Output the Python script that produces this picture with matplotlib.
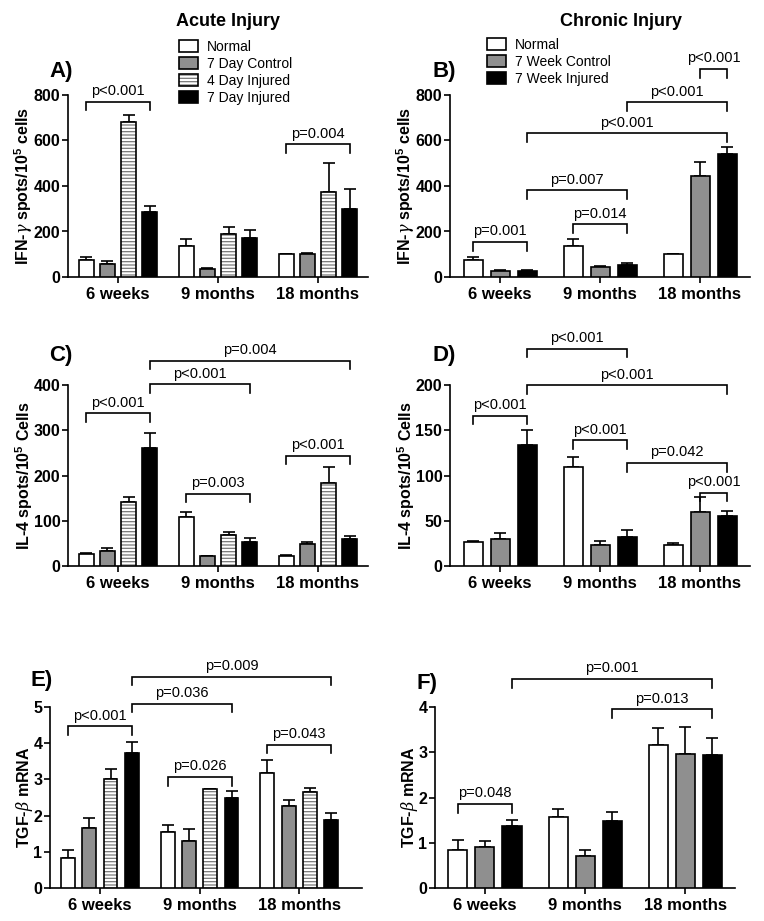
import matplotlib
matplotlib.use("Agg")
import matplotlib.pyplot as plt
from matplotlib.patches import Patch
from matplotlib.legend_handler import HandlerTuple
import numpy as np

plt.rcParams['font.family'] = ['Liberation Sans', 'DejaVu Sans']
plt.rcParams['mathtext.fontset'] = 'custom'
plt.rcParams['mathtext.rm'] = 'Liberation Sans'
plt.rcParams['mathtext.it'] = 'DejaVu Serif:italic'
plt.rcParams['mathtext.bf'] = 'Liberation Sans:bold'
plt.rcParams['hatch.linewidth'] = 0.9

# ---------------- data ----------------
groups = ['6 weeks', '9 months', '18 months']
acute_series = ['Normal', '7 Day Control', '4 Day Injured', '7 Day Injured']
chronic_series = ['Normal', '7 Week Control', '7 Week Injured']

ifn_acute_mean = [[75, 135, 100], [57, 35, 100], [680, 188, 374], [287, 170, 300]]
ifn_acute_err = [[12, 33, 3], [12, 5, 4], [30, 32, 125], [24, 38, 85]]
ifn_chronic_mean = [[75, 135, 100], [25, 44, 444], [25, 54, 540]]
ifn_chronic_err = [[12, 33, 3], [6, 4, 60], [4, 8, 32]]

il4_acute_mean = [[26, 109, 23], [33, 21, 48], [142, 68, 183], [261, 54, 59]]
il4_acute_err = [[2, 11, 2], [6, 2, 6], [11, 8, 36], [33, 7, 8]]
il4_chronic_mean = [[26, 109, 23], [30, 23, 60], [134, 32, 55]]
il4_chronic_err = [[2, 11, 2], [6, 5, 16], [16, 8, 6]]

tgf_acute_mean = [[0.83, 1.54, 3.17], [1.65, 1.30, 2.27], [3.01, 2.73, 2.64], [3.72, 2.50, 1.88]]
tgf_acute_err = [[0.23, 0.19, 0.36], [0.28, 0.32, 0.16], [0.29, 0.01, 0.11], [0.32, 0.18, 0.18]]
tgf_chronic_mean = [[0.83, 1.56, 3.16], [0.90, 0.70, 2.97], [1.38, 1.47, 2.95]]
tgf_chronic_err = [[0.23, 0.18, 0.38], [0.13, 0.13, 0.59], [0.12, 0.20, 0.37]]

# brackets: (group_from, series_from, group_to, series_to, y, label)
brackets_A = [(0, 0, 0, 3, 771, 'p<0.001'), (2, 0, 2, 3, 583, 'p=0.004')]
brackets_B = [(2, 1, 2, 2, 915, 'p<0.001'), (1, 2, 2, 2, 768, 'p<0.001'),
              (0, 2, 2, 2, 631, 'p<0.001'), (0, 2, 1, 2, 382, 'p=0.007'),
              (1, 0, 1, 2, 232, 'p=0.014'), (0, 0, 0, 2, 154, 'p=0.001')]
brackets_C = [(0, 0, 0, 3, 338, 'p<0.001'), (0, 3, 1, 3, 402, 'p<0.001'),
              (0, 3, 2, 3, 454, 'p=0.004'), (1, 0, 1, 3, 160, 'p=0.003'),
              (2, 0, 2, 3, 244, 'p<0.001')]
brackets_D = [(0, 0, 0, 2, 166, 'p<0.001'), (0, 2, 1, 2, 240, 'p<0.001'),
              (0, 2, 2, 2, 200, 'p<0.001'), (1, 0, 1, 2, 139, 'p<0.001'),
              (1, 2, 2, 2, 114, 'p=0.042'), (2, 1, 2, 2, 81, 'p<0.001')]
brackets_E = [(0, 0, 0, 3, 4.47, 'p<0.001'), (0, 3, 1, 3, 5.09, 'p=0.036'),
              (0, 3, 2, 3, 5.84, 'p=0.009'), (1, 0, 1, 3, 3.07, 'p=0.026'),
              (2, 0, 2, 3, 3.96, 'p=0.043')]
brackets_F = [(0, 0, 0, 2, 1.86, 'p=0.048'), (1, 2, 2, 2, 3.95, 'p=0.013'),
              (0, 2, 2, 2, 4.62, 'p=0.001')]

GRAY = '#8f8f8f'
HATCH_GRAY = '#7a7a7a'
acute_styles = ['white', 'gray', 'hatch', 'black']
chronic_styles = ['white', 'gray', 'black']

W, H = 764, 921
fig = plt.figure(figsize=(W / 100, H / 100), dpi=100)


def make_ax(left, right, top, bottom):
    return fig.add_axes([left / W, 1 - bottom / H, (right - left) / W, (bottom - top) / H])


LW = 1.2


def draw_panel(ax, means, errs, styles, width, spacing, ymax, ystep, xlim,
               ylabel, brackets, drop_frac=0.048):
    n = len(means)
    xg = np.arange(len(groups))
    pos = {}
    for i in range(n):
        x = xg + (i - (n - 1) / 2) * spacing
        pos[i] = x
        st = styles[i]
        m = np.array(means[i], dtype=float)
        e = np.array(errs[i], dtype=float)
        ax.errorbar(x, m, yerr=[np.zeros_like(e), e], fmt='none', ecolor='black',
                    elinewidth=LW, capsize=4.2, capthick=LW, zorder=2)
        if st == 'white':
            ax.bar(x, m, width, color='white', edgecolor='black', linewidth=LW, zorder=3)
        elif st == 'gray':
            ax.bar(x, m, width, color=GRAY, edgecolor='black', linewidth=LW, zorder=3)
        elif st == 'black':
            ax.bar(x, m, width, color='black', edgecolor='black', linewidth=LW, zorder=3)
        else:
            ax.bar(x, m, width, color='white', edgecolor=HATCH_GRAY, hatch='-----',
                   linewidth=0, zorder=3)
            ax.bar(x, m, width, fill=False, edgecolor='black', linewidth=LW, zorder=4)
    ax.set_xlim(*xlim)
    ax.set_ylim(0, ymax)
    ax.set_yticks(np.arange(0, ymax + ystep / 2, ystep))
    ax.set_xticks(xg)
    ax.set_xticklabels(groups, fontsize=12, fontweight='bold')
    for lab in ax.get_yticklabels():
        lab.set_fontweight('bold')
        lab.set_fontsize(11.5)
    ax.tick_params(axis='both', direction='out', length=4, width=LW, pad=1.5)
    ax.tick_params(axis='x', pad=3)
    for s in ['top', 'right']:
        ax.spines[s].set_visible(False)
    for s in ['left', 'bottom']:
        ax.spines[s].set_linewidth(LW)
    ax.set_ylabel(ylabel, fontsize=11.5, fontweight='bold', labelpad=-1)
    drop = drop_frac * ymax
    for g0, s0, g1, s1, y, lab in brackets:
        x0 = pos[s0][g0]
        x1 = pos[s1][g1]
        ax.plot([x0, x0, x1, x1], [y - drop, y, y, y - drop], color='black',
                linewidth=LW, clip_on=False, zorder=5, solid_joinstyle='miter')
        ax.annotate(lab, xy=((x0 + x1) / 2, y), xytext=(0, 2.5), textcoords='offset points',
                    ha='center', va='bottom', fontsize=10.5, annotation_clip=False)


ifn_label = r'IFN-$\gamma$ spots/10$^{\mathbf{5}}$ cells'
il4_label = r'IL-4 spots/10$^{\mathbf{5}}$ Cells'
tgf_label = r'TGF-$\beta$ mRNA'

axA = make_ax(68, 368, 95, 277)
draw_panel(axA, ifn_acute_mean, ifn_acute_err, acute_styles, 0.15, 0.213, 800, 200,
           (-0.5, 2.5), ifn_label, brackets_A)
axB = make_ax(450, 750, 95, 277)
draw_panel(axB, ifn_chronic_mean, ifn_chronic_err, chronic_styles, 0.19, 0.27, 800, 200,
           (-0.5, 2.5), ifn_label, brackets_B)
axC = make_ax(68, 368, 385, 566)
draw_panel(axC, il4_acute_mean, il4_acute_err, acute_styles, 0.15, 0.213, 400, 100,
           (-0.5, 2.5), il4_label, brackets_C)
axD = make_ax(450, 750, 385, 566)
draw_panel(axD, il4_chronic_mean, il4_chronic_err, chronic_styles, 0.19, 0.27, 200, 50,
           (-0.5, 2.5), il4_label, brackets_D)
axE = make_ax(50, 362, 707, 888)
draw_panel(axE, tgf_acute_mean, tgf_acute_err, acute_styles, 0.14, 0.214, 5, 1,
           (-0.5, 2.63), tgf_label, brackets_E)
axF = make_ax(435, 735, 707, 888)
draw_panel(axF, tgf_chronic_mean, tgf_chronic_err, chronic_styles, 0.19, 0.27, 4, 1,
           (-0.5, 2.5), tgf_label, brackets_F)

# panel letters
for lab, (x, y) in zip(['A)', 'B)', 'C)', 'D)', 'E)', 'F)'],
                       [(49, 71), (432, 71), (49, 355), (432, 355), (30, 680), (417, 683)]):
    fig.text(x / W, 1 - y / H, lab, fontsize=16, fontweight='bold', ha='left', va='center')

# titles
fig.text(228 / W, 1 - 21 / H, 'Acute Injury', fontsize=13, fontweight='bold', ha='center', va='center')
fig.text(621 / W, 1 - 21 / H, 'Chronic Injury', fontsize=13, fontweight='bold', ha='center', va='center')


def style_handle(st):
    if st == 'white':
        return Patch(facecolor='white', edgecolor='black', linewidth=LW)
    if st == 'gray':
        return Patch(facecolor=GRAY, edgecolor='black', linewidth=LW)
    if st == 'black':
        return Patch(facecolor='black', edgecolor='black', linewidth=LW)
    return (Patch(facecolor='white', edgecolor=HATCH_GRAY, hatch='-----', linewidth=0),
            Patch(fill=False, edgecolor='black', linewidth=LW))


def add_legend(ax, labels, styles, x, y):
    handles = [style_handle(s) for s in styles]
    leg = ax.legend(handles, labels, loc='upper left', bbox_to_anchor=(x / W, 1 - y / H),
                    bbox_transform=fig.transFigure, frameon=False, fontsize=10,
                    handlelength=1.35, handleheight=0.95, handletextpad=0.65,
                    labelspacing=0.22, borderpad=0, borderaxespad=0,
                    handler_map={tuple: HandlerTuple(ndivide=1, pad=0)})
    return leg


add_legend(axA, acute_series, acute_styles, 179, 40)
add_legend(axB, chronic_series, chronic_styles, 487, 38)

fig.savefig('out.png', dpi=100)
